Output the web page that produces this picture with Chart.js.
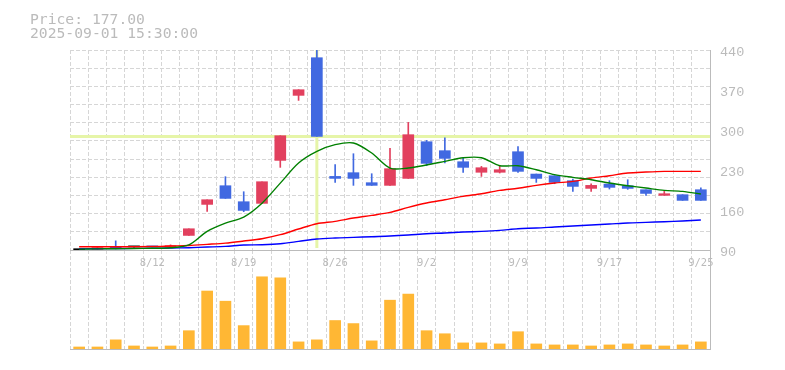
<!DOCTYPE html>
<html>
<head>
<meta charset="utf-8">
<script src="https://cdn.jsdelivr.net/npm/chart.js@4.4.1/dist/chart.umd.min.js"></script>
<style>
  html, body { margin: 0; padding: 0; background: #fff; }
  #wrap { position: relative; width: 785px; height: 370px; overflow: hidden; }
  canvas { position: absolute; left: 0; top: 0; }
  .info { position: absolute; left: 30px; font-family: "DejaVu Sans Mono", monospace; font-size: 14.7px; line-height: 15px; color: #bbb; white-space: pre; }
</style>
</head>
<body>
<div id="wrap">
  <canvas id="volChart" width="785" height="370"></canvas>
  <canvas id="priceChart" width="785" height="370"></canvas>
  <div class="info" style="top:10.7px">Price: 177.00</div>
  <div class="info" style="top:25.1px">2025-09-01 15:30:00</div>
</div>
<script>
const dates = ['8/5','8/6','8/7','8/8','8/12','8/13','8/14','8/15','8/18','8/19','8/20','8/21','8/22',
    '8/25','8/26','8/27','8/28','8/29','9/1','9/2','9/3','9/4','9/5','9/8','9/9','9/10','9/11','9/12',
    '9/16','9/17','9/18','9/19','9/22','9/24','9/25'];
const shownDates = ['8/12','8/19','8/26','9/2','9/9','9/17','9/25'];

const opens  = [90.5, 91, 95.8, 95.5, 96, 95.5, 115.5, 169.8, 202.5, 174.5, 171.6, 246.8, 360.6, 426.5,
    218.8, 225.3, 207.8, 203.1, 215.3, 279.5, 263.8, 244.5, 226, 226, 262, 222.9, 220, 211.3, 197.8,
    205.4, 202.5, 195.5, 185.6, 186.8, 195.5];
const highs  = [91, 94.5, 106, 96.2, 96, 99, 127.2, 178, 218.3, 192, 209.5, 290, 370.5, 450,
    239.3, 258.5, 223.5, 267.8, 313.3, 281.8, 286.5, 250.9, 236.3, 237.5, 270.8, 222.9, 220, 214.2, 206,
    211.3, 213, 195.5, 192.6, 186.8, 199];
const lows   = [90, 90.8, 92, 95, 95.5, 95.2, 115.5, 157.3, 180.3, 157, 171.6, 234.6, 351.8, 288.8,
    208.3, 203.1, 203, 203, 215.3, 237.5, 242.2, 225.8, 218.8, 224.7, 225.8, 208.3, 206, 192.6, 192.6,
    196.7, 196.1, 185.6, 185.6, 176.8, 176.8];
const closes = [90.5, 94.2, 92.3, 95.5, 95.5, 97.5, 127.2, 178, 180.3, 159.3, 209.5, 290, 370.5, 288.8,
    215.3, 215.3, 203.1, 232.3, 291.8, 241.6, 250.3, 234.6, 234, 230.5, 227.6, 215.3, 208.3, 201.3, 203.1,
    199.6, 197.8, 189, 188.5, 176.8, 176.8];

const ma5  = [91.5, 92, 92.3, 92.6, 93, 94, 99, 122.6, 137, 147.7, 172, 207, 242.2, 262.6, 274.3, 277.2,
    259.7, 233.4, 233.4, 238.7, 245.1, 251.5, 251.5, 237.5, 237.5, 230.5, 221.8, 217.1, 213, 207.2,
    202.5, 198.4, 194.3, 192.6, 187.9];
const ma25 = [95.8, 95.8, 95.8, 95.8, 96, 97, 98, 99.9, 102, 105.7, 109.8, 116.8, 126.7, 136, 140.1,
    145.9, 150.6, 155.8, 164.6, 172.2, 178, 183.8, 188.5, 194.3, 198, 203.1, 207.2, 210.1, 215.9, 220,
    224.7, 226.4, 227.6, 227.6, 227.6];
const ma75 = [92, 92.3, 92.5, 92.8, 93, 93.4, 94, 95.2, 96.4, 98.7, 99.3, 101, 105, 109.2, 111, 112.1,
    113.3, 114.4, 116.2, 118.5, 119.7, 121.4, 122.6, 124.4, 127.3, 128.4, 130.2, 131.9, 133.7, 135.4,
    137.2, 138.3, 139.5, 140.7, 142.4];

const volumes = [6, 6, 27, 9, 6, 9, 54, 171, 141, 69, 213, 210, 21, 27, 84, 75, 24, 144, 162, 54, 45,
    18, 18, 15, 51, 15, 12, 12, 9, 12, 15, 12, 9, 12, 21];

const priceTicks = [90, 160, 230, 300, 370, 440];
const crossIndex = 13;
const crossPrice = 288.8;

const UP = "#e2405e";
const DOWN = "#4169e1";
const GRID = "#d6d6d6";
const AXIS = "#bbbbbb";
const DASH = [4, 2];

// 11 horizontal grid rows regardless of labels
const gridVals = [];
for (let i = 0; i <= 11; i++) gridVals.push(90 + i * 350 / 11);

const candleColors = opens.map((o, i) => closes[i] > o ? UP : (closes[i] < o ? DOWN : "#000"));

const crosshair = {
    id: "crosshair",
    beforeDatasetsDraw(chart) {
        const { ctx, chartArea, scales } = chart;
        const x = scales.x.getPixelForValue(crossIndex);
        const y = scales.y.getPixelForValue(crossPrice);
        ctx.save();
        ctx.beginPath();
        ctx.rect(chartArea.left, chartArea.top, chartArea.width, chartArea.height);
        ctx.clip();
        ctx.strokeStyle = "#e6f5a8";
        ctx.lineWidth = 3;
        ctx.beginPath();
        ctx.moveTo(chartArea.left, y);
        ctx.lineTo(chartArea.right, y);
        ctx.moveTo(x, chartArea.top);
        ctx.lineTo(x, chartArea.bottom - 2);
        ctx.stroke();
        ctx.restore();
    }
};

function lineSet(data, color) {
    return {
        type: "line",
        data: data,
        borderColor: color,
        borderWidth: 1.4,
        pointRadius: 0,
        tension: 0.3,
        order: 0,
        yAxisID: "y"
    };
}

new Chart(document.getElementById("priceChart"), {
    type: "bar",
    data: {
        labels: dates,
        datasets: [
            lineSet(ma5, "#008000"),
            lineSet(ma25, "#ff0000"),
            lineSet(ma75, "#0000ff"),
            {
                data: opens.map((o, i) => [Math.min(o, closes[i]), Math.max(o, closes[i])]),
                backgroundColor: candleColors,
                barThickness: 11,
                minBarLength: 1,
                grouped: false,
                order: 1,
                yAxisID: "y"
            },
            {
                data: lows.map((l, i) => [l, highs[i]]),
                backgroundColor: candleColors,
                barThickness: 1,
                grouped: false,
                order: 2,
                yAxisID: "y"
            }
        ]
    },
    options: {
        responsive: false,
        animation: false,
        layout: { padding: { left: 70, top: 50, right: 0, bottom: 0 } },
        plugins: { legend: { display: false }, tooltip: { enabled: false } },
        scales: {
            x: {
                offset: true,
                afterFit: s => { s.height = 120; },
                grid: { offset: true, color: GRID, drawTicks: false },
                border: { color: AXIS, dash: DASH },
                ticks: {
                    autoSkip: false,
                    maxRotation: 0,
                    padding: 7,
                    color: AXIS,
                    font: { family: "DejaVu Sans Mono", size: 10.5 },
                    callback: (v, i) => shownDates.includes(dates[i]) ? dates[i] : ""
                }
            },
            yGrid: {
                position: "left",
                min: 90,
                max: 440,
                afterBuildTicks: a => { a.ticks = gridVals.map(v => ({ value: v })); },
                afterFit: s => { s.width = 0; },
                ticks: { display: false },
                grid: { color: GRID, drawTicks: false },
                border: { display: false, dash: DASH }
            },
            y: {
                position: "right",
                min: 90,
                max: 440,
                afterBuildTicks: a => { a.ticks = priceTicks.map(v => ({ value: v })); },
                afterFit: s => { s.width = 75; },
                grid: { display: false, drawTicks: false },
                border: { display: true, color: AXIS },
                ticks: {
                    padding: 10,
                    labelOffset: 2.5,
                    color: AXIS,
                    font: { family: "Liberation Mono", size: 13.5 }
                }
            }
        }
    },
    plugins: [crosshair]
});

new Chart(document.getElementById("volChart"), {
    type: "bar",
    data: {
        labels: dates,
        datasets: [{
            data: volumes,
            backgroundColor: "#ffb734",
            barThickness: 11
        }]
    },
    options: {
        responsive: false,
        animation: false,
        layout: { padding: { left: 70, top: 250, right: 0, bottom: 0 } },
        plugins: { legend: { display: false }, tooltip: { enabled: false } },
        scales: {
            x: {
                offset: true,
                afterFit: s => { s.height = 21; },
                grid: { offset: true, color: GRID, drawTicks: false },
                border: { color: AXIS, dash: DASH },
                ticks: { display: false }
            },
            y: {
                position: "right",
                min: 0,
                max: 292,
                afterFit: s => { s.width = 75; },
                grid: { display: false, drawTicks: false },
                border: { display: true, color: AXIS },
                ticks: { display: false }
            }
        }
    }
});
</script>
</body>
</html>
